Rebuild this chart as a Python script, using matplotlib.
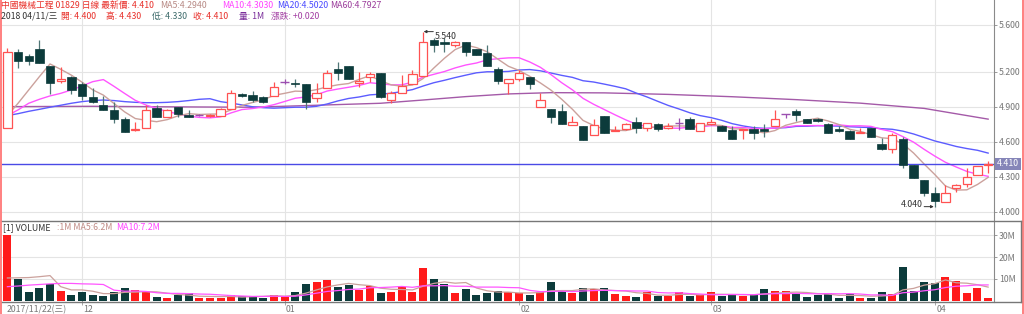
import numpy as np
import matplotlib
matplotlib.use("Agg")
import matplotlib.pyplot as plt
from matplotlib.lines import Line2D
from matplotlib.transforms import blended_transform_factory, ScaledTranslation

plt.rcParams['font.family'] = ['Noto Sans CJK TC', 'DejaVu Sans']

# daily candles 2017/11/22 - 2018/04/11 (01829)
opens = [4.72, 5.37, 5.33, 5.39, 5.25, 5.12, 5.15, 5.09, 4.98, 4.91,
         4.87, 4.79, 4.70, 4.72, 4.89, 4.81, 4.90, 4.83, 4.83, 4.82,
         4.82, 4.88, 5.01, 5.00, 4.98, 4.99, 5.11, 5.10, 5.09, 4.97,
         5.06, 5.22, 5.25, 5.10, 5.15, 5.19, 4.96, 5.02, 5.09, 5.16,
         5.47, 5.45, 5.43, 5.45, 5.39, 5.36, 5.22, 5.10, 5.14, 5.15,
         4.90, 4.88, 4.86, 4.74, 4.73, 4.66, 4.82, 4.69, 4.71, 4.77,
         4.72, 4.75, 4.72, 4.76, 4.79, 4.69, 4.75, 4.73, 4.70, 4.70,
         4.71, 4.71, 4.73, 4.84, 4.86, 4.79, 4.79, 4.75, 4.71, 4.69,
         4.67, 4.72, 4.58, 4.54, 4.62, 4.40, 4.27, 4.16, 4.08, 4.20,
         4.24, 4.31, 4.40]
highs = [5.40, 5.39, 5.35, 5.47, 5.25, 5.24, 5.16, 5.11, 5.06, 4.99,
         4.94, 4.81, 4.77, 4.91, 4.91, 4.88, 4.90, 4.87, 4.84, 4.84,
         4.89, 5.04, 5.02, 5.03, 4.99, 5.11, 5.14, 5.14, 5.09, 5.10,
         5.21, 5.28, 5.25, 5.20, 5.20, 5.19, 5.03, 5.17, 5.21, 5.54,
         5.49, 5.49, 5.46, 5.45, 5.39, 5.43, 5.24, 5.14, 5.21, 5.15,
         5.02, 4.88, 4.92, 4.82, 4.73, 4.79, 4.82, 4.73, 4.76, 4.81,
         4.76, 4.76, 4.76, 4.80, 4.81, 4.76, 4.79, 4.74, 4.73, 4.71,
         4.73, 4.75, 4.87, 4.84, 4.88, 4.79, 4.80, 4.76, 4.73, 4.70,
         4.72, 4.72, 4.63, 4.67, 4.64, 4.40, 4.27, 4.21, 4.23, 4.24,
         4.37, 4.39, 4.43]
lows = [4.72, 5.23, 5.26, 5.27, 5.01, 5.10, 5.01, 4.96, 4.93, 4.87,
        4.76, 4.68, 4.69, 4.72, 4.81, 4.81, 4.81, 4.81, 4.82, 4.81,
        4.82, 4.88, 4.98, 4.94, 4.93, 4.99, 5.09, 5.07, 4.88, 4.94,
        5.06, 5.13, 5.14, 5.07, 5.11, 4.97, 4.93, 5.02, 5.09, 5.16,
        5.37, 5.37, 5.41, 5.33, 5.34, 5.25, 5.09, 5.01, 5.12, 5.05,
        4.90, 4.76, 4.75, 4.74, 4.61, 4.66, 4.67, 4.69, 4.70, 4.67,
        4.69, 4.69, 4.71, 4.70, 4.71, 4.69, 4.74, 4.69, 4.62, 4.62,
        4.62, 4.64, 4.73, 4.80, 4.78, 4.76, 4.77, 4.67, 4.68, 4.62,
        4.67, 4.64, 4.53, 4.50, 4.37, 4.29, 4.13, 4.04, 4.08, 4.17,
        4.21, 4.31, 4.33]
closes = [5.37, 5.29, 5.29, 5.27, 5.10, 5.14, 5.04, 4.99, 4.94, 4.87,
          4.79, 4.68, 4.71, 4.87, 4.81, 4.87, 4.84, 4.81, 4.83, 4.83,
          4.88, 5.02, 4.99, 4.96, 4.94, 5.07, 5.11, 5.09, 4.94, 5.02,
          5.19, 5.19, 5.14, 5.12, 5.18, 4.98, 5.02, 5.08, 5.18, 5.45,
          5.43, 5.44, 5.45, 5.37, 5.34, 5.25, 5.12, 5.14, 5.19, 5.09,
          4.96, 4.81, 4.75, 4.77, 4.61, 4.74, 4.67, 4.70, 4.75, 4.72,
          4.76, 4.71, 4.73, 4.76, 4.71, 4.76, 4.77, 4.69, 4.62, 4.71,
          4.67, 4.69, 4.79, 4.84, 4.83, 4.76, 4.78, 4.67, 4.69, 4.62,
          4.68, 4.64, 4.54, 4.66, 4.40, 4.29, 4.16, 4.09, 4.16, 4.23,
          4.30, 4.39, 4.41]
# volume in millions
volumes = [30.0, 10.1, 4.1, 6.0, 7.5, 4.4, 2.6, 4.1, 2.7, 2.3,
           4.1, 5.6, 4.8, 3.8, 1.6, 1.2, 2.4, 3.5, 1.1, 1.1,
           1.1, 2.7, 2.0, 2.3, 1.2, 2.7, 1.6, 3.8, 7.5, 8.7,
           9.7, 6.4, 7.0, 4.8, 6.7, 3.5, 4.1, 6.3, 4.1, 14.9,
           10.1, 7.5, 3.5, 5.3, 2.6, 3.5, 4.5, 3.8, 3.3, 2.6,
           4.1, 8.5, 4.5, 3.3, 5.6, 5.3, 6.0, 3.0, 2.0, 1.6,
           3.8, 2.3, 2.3, 3.8, 2.1, 2.6, 3.8, 2.3, 3.0, 2.0,
           2.6, 5.3, 4.2, 4.2, 3.3, 1.6, 2.6, 3.5, 1.2, 3.0,
           1.2, 1.1, 4.1, 2.8, 15.3, 4.5, 8.7, 7.9, 10.9, 9.0,
           3.3, 5.6, 1.1]

# moving averages as shown on the chart
ma5 = [4.823, 4.929, 5.043, 5.157, 5.266, 5.220, 5.170, 5.110, 5.044, 4.999,
       4.927, 4.855, 4.798, 4.783, 4.771, 4.789, 4.821, 4.840, 4.833, 4.836,
       4.837, 4.873, 4.910, 4.936, 4.958, 4.997, 5.014, 5.033, 5.030, 5.046,
       5.070, 5.087, 5.098, 5.134, 5.165, 5.122, 5.087, 5.075, 5.086, 5.141,
       5.231, 5.315, 5.389, 5.428, 5.406, 5.371, 5.308, 5.246, 5.210, 5.160,
       5.103, 5.041, 4.963, 4.878, 4.782, 4.738, 4.708, 4.698, 4.695, 4.715,
       4.719, 4.727, 4.734, 4.735, 4.733, 4.733, 4.746, 4.738, 4.709, 4.710,
       4.691, 4.675, 4.695, 4.740, 4.764, 4.784, 4.801, 4.777, 4.747, 4.706,
       4.688, 4.660, 4.633, 4.626, 4.581, 4.503, 4.408, 4.318, 4.220, 4.185,
       4.187, 4.233, 4.294]
ma10 = [4.823, 4.872, 4.929, 4.963, 4.992, 5.014, 5.043, 5.077, 5.114, 5.132,
        5.074, 5.013, 4.954, 4.914, 4.885, 4.858, 4.838, 4.819, 4.808, 4.804,
        4.813, 4.847, 4.875, 4.884, 4.897, 4.917, 4.944, 4.972, 4.983, 5.002,
        5.034, 5.051, 5.066, 5.082, 5.105, 5.096, 5.087, 5.087, 5.110, 5.153,
        5.177, 5.201, 5.232, 5.257, 5.274, 5.301, 5.311, 5.318, 5.319, 5.283,
        5.237, 5.174, 5.105, 5.044, 4.971, 4.920, 4.875, 4.830, 4.787, 4.749,
        4.729, 4.718, 4.716, 4.715, 4.724, 4.726, 4.737, 4.736, 4.722, 4.722,
        4.712, 4.711, 4.716, 4.725, 4.737, 4.737, 4.738, 4.736, 4.744, 4.735,
        4.736, 4.731, 4.705, 4.686, 4.643, 4.596, 4.534, 4.476, 4.423, 4.383,
        4.345, 4.321, 4.303]
ma20 = [4.823, 4.840, 4.860, 4.877, 4.895, 4.912, 4.929, 4.943, 4.952, 4.957,
        4.952, 4.943, 4.937, 4.934, 4.934, 4.937, 4.943, 4.952, 4.963, 4.968,
        4.943, 4.930, 4.915, 4.899, 4.891, 4.887, 4.891, 4.895, 4.895, 4.903,
        4.923, 4.949, 4.970, 4.983, 5.001, 5.007, 5.015, 5.029, 5.046, 5.077,
        5.105, 5.126, 5.149, 5.170, 5.190, 5.199, 5.199, 5.202, 5.214, 5.218,
        5.207, 5.188, 5.168, 5.151, 5.122, 5.111, 5.093, 5.074, 5.053, 5.016,
        4.983, 4.946, 4.910, 4.880, 4.848, 4.823, 4.806, 4.783, 4.754, 4.735,
        4.720, 4.714, 4.716, 4.720, 4.731, 4.732, 4.737, 4.736, 4.733, 4.728,
        4.724, 4.721, 4.711, 4.706, 4.690, 4.666, 4.636, 4.606, 4.583, 4.559,
        4.541, 4.526, 4.502]
ma60_idx = [0, 8, 16, 23, 29, 35, 39, 43, 47, 51, 56, 62, 68, 74, 80, 86, 92]
ma60 = [4.900, 4.903, 4.898, 4.895, 4.912, 4.929, 4.957, 4.986, 5.009, 5.020,
        5.018, 5.005, 4.985, 4.960, 4.930, 4.885, 4.793]
vol_ma5 = [10.4, 10.5, 10.6, 11.0, 11.5, 6.4, 4.9, 4.9, 4.3, 3.2,
           3.2, 3.8, 3.9, 4.1, 4.0, 3.4, 2.8, 2.5, 2.0, 1.9,
           1.8, 1.9, 1.6, 1.8, 1.9, 2.2, 2.0, 2.3, 3.4, 4.9,
           6.3, 7.2, 7.9, 7.3, 6.9, 5.7, 5.2, 5.1, 4.9, 6.6,
           7.9, 8.6, 8.0, 8.3, 5.8, 4.5, 3.9, 3.9, 3.5, 3.5,
           3.7, 4.5, 4.6, 4.6, 5.2, 5.4, 4.9, 4.6, 4.4, 3.6,
           3.3, 2.5, 2.4, 2.8, 2.9, 2.6, 2.9, 2.9, 2.8, 2.7,
           2.7, 3.0, 3.4, 3.7, 3.9, 3.7, 3.2, 3.0, 2.4, 2.4,
           2.3, 2.0, 2.1, 2.4, 4.9, 5.6, 7.1, 7.8, 9.5, 8.2,
           8.0, 7.3, 6.2]
vol_ma10 = [6.4, 6.7, 7.1, 7.4, 7.7, 7.9, 7.9, 7.7, 7.6, 7.4,
            4.8, 4.3, 4.4, 4.2, 3.6, 3.3, 3.3, 3.2, 3.0, 2.9,
            2.6, 2.3, 2.1, 1.9, 1.9, 2.0, 1.9, 2.0, 2.6, 3.4,
            4.2, 4.6, 5.1, 5.3, 5.9, 6.0, 6.2, 6.5, 6.1, 6.8,
            6.8, 6.9, 6.6, 6.6, 6.2, 6.2, 6.2, 6.0, 5.9, 4.7,
            4.1, 4.2, 4.3, 4.1, 4.4, 4.6, 4.7, 4.6, 4.5, 4.4,
            4.4, 3.7, 3.5, 3.6, 3.2, 3.0, 2.7, 2.7, 2.8, 2.8,
            2.7, 3.0, 3.2, 3.2, 3.3, 3.2, 3.1, 3.2, 3.1, 3.2,
            3.0, 2.6, 2.6, 2.4, 3.6, 3.9, 4.5, 5.0, 6.0, 6.6,
            6.8, 7.2, 7.2]

month_idx = [7, 26, 48, 66, 87]
month_labels = ['12', '01', '02', '03', '04']
first_date = '2017/11/22(三)'
price_ticks = [4.0, 4.3, 4.6, 4.9, 5.2, 5.6]
vol_ticks = [10, 20, 30]
last_price = 4.41

UP = '#ff5252'
DOWN = '#0c3b3b'
DOWN_WICK = '#4f7676'
DOJI = '#9b4fb0'
GRID = '#e4e4e4'
AXIS = '#8a8a8a'
FS = 6.3

W, H = 1024, 314
fig = plt.figure(figsize=(W / 100, H / 100), dpi=100)


def fx(px):
    return px / W


def fy(py):
    return 1 - py / H


ax1 = fig.add_axes([fx(1.5), fy(221), (994 - 1.5) / W, 221 / H])
ax2 = fig.add_axes([fx(1.5), fy(302), (994 - 1.5) / W, 81 / H])

x = np.arange(len(closes))
o, hi, lo, c = map(np.array, (opens, highs, lows, closes))
up = c > o
down = c < o
flat = c == o

wick_cols = [UP if u else (DOWN_WICK if d else DOJI) for u, d in zip(up, down)]
ax1.vlines(x, lo, hi, colors=wick_cols, lw=0.9, zorder=3)
ax1.bar(x[up], (c - o)[up], bottom=o[up], width=0.78, facecolor='white',
        edgecolor=UP, lw=0.9, zorder=4)
ax1.bar(x[down], (o - c)[down], bottom=c[down], width=0.78, color=DOWN,
        edgecolor=DOWN, lw=0.5, zorder=4)
ax1.hlines(c[flat], x[flat] - 0.39, x[flat] + 0.39, colors=DOJI, lw=1, zorder=4)

ax1.plot(ma60_idx, ma60, color='#a45aa8', lw=1, zorder=2)
ax1.plot(np.arange(len(ma20)), ma20, color='#5c5cff', lw=1, zorder=2)
ax1.plot(np.arange(len(ma10)), ma10, color='#ff55ff', lw=1, zorder=2)
ax1.plot(np.arange(len(ma5)), ma5, color='#cba19c', lw=1, zorder=2)
ax1.axhline(last_price, color='#4a4ae6', lw=1, zorder=2)

vcols = ['#ff1a1a' if cc >= oo else DOWN for oo, cc in zip(opens, closes)]
ax2.bar(np.arange(len(volumes)), volumes, width=0.75, color=vcols, zorder=3)
ax2.plot(np.arange(len(vol_ma5)), vol_ma5, color='#cba19c', lw=0.9, zorder=4)
ax2.plot(np.arange(len(vol_ma10)), vol_ma10, color='#ff55ff', lw=0.9, zorder=4)

for ax in (ax1, ax2):
    ax.set_xlim(-0.553, 92.55)
    for s in ax.spines.values():
        s.set_visible(False)
    ax.spines['right'].set_visible(True)
    ax.spines['right'].set_color(AXIS)
    ax.yaxis.tick_right()
    ax.tick_params(axis='y', length=2.5, width=0.6, color=AXIS, labelcolor='#777777',
                   labelsize=FS, pad=1)
    for m in month_idx:
        ax.axvline(m, color=GRID, lw=0.8, zorder=0)
    ax.set_axisbelow(True)
    ax.grid(axis='y', color=GRID, lw=0.8)

ax1.set_ylim(3.920, 5.814)
ax1.set_yticks(price_ticks)
ax1.set_yticklabels([f'{v:.3f}' for v in price_ticks])
ax1.set_xticks([])

ax2.set_ylim(-0.67, 36.67)
ax2.set_yticks(vol_ticks)
ax2.set_yticklabels([f'{v}M' for v in vol_ticks])
ax2.set_xticks(month_idx)
ax2.set_xticklabels(month_labels, ha='left')
ax2.tick_params(axis='x', length=4, width=0.6, direction='inout', color='#999999',
                labelcolor='#777777', labelsize=FS, pad=0)
for lab in ax2.get_xticklabels():
    lab.set_transform(lab.get_transform() + ScaledTranslation(1.5 / 100, 0, fig.dpi_scale_trans))
ax2.text(-0.03, -0.035, first_date, transform=blended_transform_factory(ax2.transData, ax2.transAxes),
         fontsize=FS, color='#777777', ha='left', va='top')

# last price tag
ax1.text(1.003, last_price, f'{last_price:.3f}',
         transform=blended_transform_factory(ax1.transAxes, ax1.transData),
         color='white', fontsize=FS, va='center', ha='left',
         bbox=dict(boxstyle='square,pad=0.18', fc='#8585b8', ec='none'))

# high / low marks
arrow = dict(arrowstyle='-|>', color='#333333', lw=0.7, mutation_scale=4, shrinkA=0, shrinkB=0)
ax1.annotate('', xy=(39.05, 5.543), xytext=(39.95, 5.543), arrowprops=arrow)
ax1.text(40.1, 5.50, '5.540', fontsize=FS, color='#333333', va='center', ha='left')
ax1.annotate('', xy=(86.9, 4.043), xytext=(86.0, 4.043), arrowprops=arrow)
ax1.text(85.9, 4.064, '4.040', fontsize=FS, color='#333333', va='center', ha='right')

# frame lines
fig.add_artist(Line2D([fx(1)] * 2, [0, 1], color='#ff6b6b', lw=1.2))
fig.add_artist(Line2D([fx(1022.5)] * 2, [0, 1], color='#ff6b6b', lw=1.2))
fig.add_artist(Line2D([fx(1.5), fx(1021)], [fy(221)] * 2, color='#777777', lw=1))
fig.add_artist(Line2D([fx(1.5), fx(1021)], [fy(302)] * 2, color='#777777', lw=1))
fig.add_artist(Line2D([fx(1020.5)] * 2, [fy(221), fy(302)], color='#777777', lw=1))

# header
head1 = [(1, '中國機械工程 01829 日線 最新價: 4.410', '#e8302a'),
         (160, 'MA5:4.2940', '#b88a85'),
         (222, 'MA10:4.3030', '#ff44ff'),
         (277, 'MA20:4.5020', '#4a4aff'),
         (330, 'MA60:4.7927', '#9b3d9b')]
head2 = [(1, '2018 04/11/三', '#333333'),
         (61, '開: 4.400', '#e8302a'),
         (106, '高: 4.430', '#e8302a'),
         (152, '低: 4.330', '#3d6b6b'),
         (193, '收: 4.410', '#e8302a'),
         (239, '量: 1M', '#7b2f9b'),
         (271, '漲跌: +0.020', '#a33fa3')]
for px, s, col in head1:
    fig.text(fx(px), fy(5.5), s, color=col, fontsize=FS, ha='left', va='center')
for px, s, col in head2:
    fig.text(fx(px), fy(16.5), s, color=col, fontsize=FS, ha='left', va='center')

vol_head = [(3, '[1] VOLUME', '#333333'),
            (57, ':1M MA5:6.2M', '#c08a85'),
            (116, 'MA10:7.2M', '#ff44ff')]
for px, s, col in vol_head:
    fig.text(fx(px), fy(228), s, color=col, fontsize=FS, ha='left', va='center')

fig.savefig('out.png', dpi=100)
